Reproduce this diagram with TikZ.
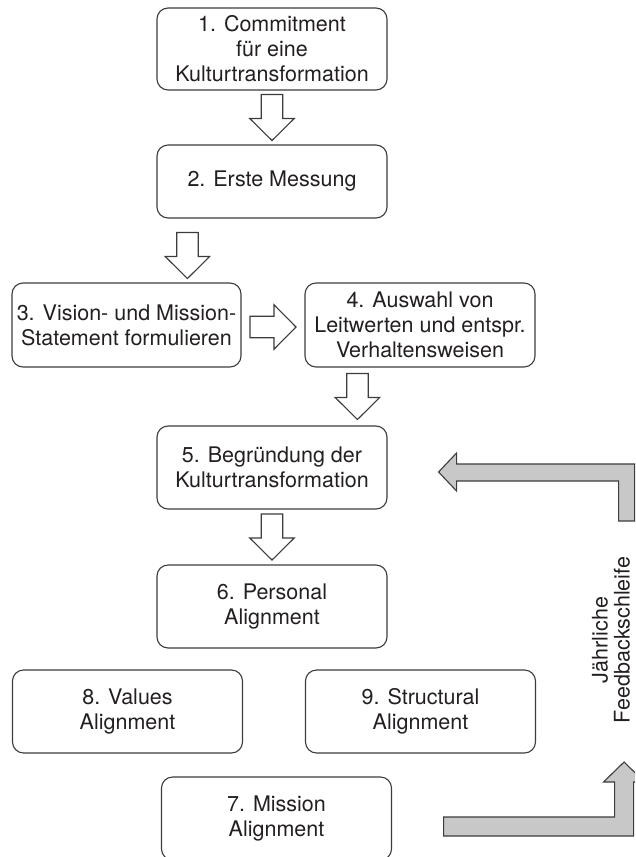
\documentclass[tikz,border=0pt]{standalone}
\usepackage{fontspec}
\setmainfont{TeX Gyre Heros}
\usetikzlibrary{positioning,calc}

\definecolor{boxline}{HTML}{3C3C3C}
\definecolor{txtcol}{HTML}{231F20}
\definecolor{fbfill}{HTML}{C8C8C8}

\tikzset{
  stagebox/.style={draw=boxline, line width=1.1pt, rounded corners=11pt,
    minimum width=230pt, minimum height=83pt, inner sep=0pt, align=center,
    text=txtcol, font=\fontsize{21.5}{25}\selectfont},
  hollowarrow/.style={draw=boxline, fill=white, line width=1.1pt,
    to path={
      (\tikztotarget) coordinate (blk-t0)
      (\tikztostart) coordinate (blk-s0)
      ($(blk-s0)!0.5!(blk-t0)$) coordinate (blk-c)
      ($(blk-c)!23pt!(blk-t0)$) coordinate (blk-t)
      ($(blk-c)!-23pt!(blk-t0)$) coordinate (blk-s)
      ($(blk-c)!1pt!(blk-t0)$) coordinate (blk-b)
      ($(blk-s)!10.75pt!90:(blk-t)$) -- ($(blk-b)!10.75pt!90:(blk-t)$)
        -- ($(blk-b)!22.25pt!90:(blk-t)$) -- (blk-t)
        -- ($(blk-b)!22.25pt!-90:(blk-t)$) -- ($(blk-b)!10.75pt!-90:(blk-t)$)
        -- ($(blk-s)!10.75pt!-90:(blk-t)$) -- cycle}},
  feedbackarrow/.style={draw=boxline, fill=fbfill, line width=1.1pt}
}

\begin{document}
\begin{tikzpicture}[x=1pt, y=-1pt, node distance=130pt, on grid]
\useasboundingbox (0,0) rectangle (635,857);
\clip (0,0) rectangle (635,857);

\node[stagebox, minimum height=82pt] (m1) at (272,49) {1. Commitment\\für eine\\Kulturtransformation};
\node[stagebox, minimum height=73pt] (m2) [below=132.5pt of m1] {2. Erste Messung};

\node[stagebox, minimum height=84pt, minimum width=229pt] (m3) [below left=143.5pt and 145.5pt of m2] {3. Vision- und Mission-\\Statement formulieren};
\node[stagebox, minimum height=84pt] (m4) [right=293.5pt of m3] {4. Auswahl von\\Leitwerten und entspr.\\Verhaltensweisen};

\node[stagebox] (m5) [below=286pt of m2] {5. Begründung der\\Kulturtransformation};
\node[stagebox] (m6) [below=139pt of m5] {6. Personal\\Alignment};

\node[stagebox] (m8) [below left=105pt and 144.5pt of m6] {8. Values\\Alignment};
\node[stagebox] (m9) [right=293pt of m8] {9. Structural\\Alignment};
\node[stagebox] (m7) [below right=212pt and 4.5pt of m6] {7. Mission\\Alignment};

\node[rotate=90, align=center, inner sep=0pt, text=txtcol,
  font=\fontsize{21.5}{22}\selectfont] (fbtext) at (611,640) {Jährliche\\Feedbackschleife};

% free ends of the block arrows
\coordinate (a23) at ([xshift=31pt,yshift=-10pt]m2.south west);
\coordinate (a45) at ([xshift=53pt]m4.south west);

\path[hollowarrow]
  (m1.south) to (m2.north)
  (a23) to (a23 |- m3.north)
  ([yshift=-2pt]m3.east) to ([yshift=-2pt]m4.west)
  (a45) to (a45 |- m5.north)
  (m5.south) to (m6.north);

% feedback loop
\coordinate (fb-in) at ([xshift=51pt,yshift=-4.5pt]m5.east);
\coordinate (fb-out) at ([xshift=51.5pt,yshift=-8pt]m7.east);

\draw[feedbackarrow] (fb-in) -- ++(18,-19) -- ++(0,11) -- ++(178,0) -- ++(0,57)
  -- ++(-16,0) -- ++(0,-40) -- ++(-162,0) -- ++(0,10) -- cycle;
\draw[feedbackarrow] ([yshift=9.5pt]fb-out) -- ++(171,0) -- ++(0,-35) -- ++(-11,0)
  -- ++(20.5,-20) -- ++(20.5,20) -- ++(-11,0) -- ++(0,54) -- ++(-190,0) -- cycle;
\end{tikzpicture}
\end{document}
